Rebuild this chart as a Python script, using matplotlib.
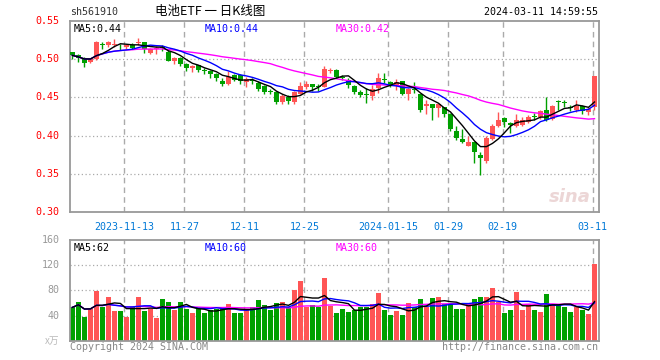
import numpy as np
import pandas as pd
import matplotlib
matplotlib.use('Agg')
import matplotlib.pyplot as plt

# daily candles, 2023-10-31 .. 2024-03-11
opens = [0.509, 0.506, 0.502, 0.496, 0.500, 0.520, 0.518, 0.519, 0.519, 0.516,
         0.519, 0.521, 0.522, 0.508, 0.513, 0.516, 0.510, 0.498, 0.502, 0.494,
         0.488, 0.492, 0.4855, 0.485, 0.481, 0.472, 0.467, 0.479, 0.479, 0.470,
         0.4725, 0.469, 0.465, 0.4575, 0.457, 0.444, 0.451, 0.444, 0.455, 0.464,
         0.467, 0.4645, 0.464, 0.4845, 0.486, 0.4765, 0.473, 0.465, 0.457, 0.4535,
         0.452, 0.462, 0.4735, 0.470, 0.466, 0.471, 0.455, 0.4605, 0.454, 0.439,
         0.441, 0.436, 0.437, 0.428, 0.406, 0.396, 0.387, 0.391, 0.375, 0.367,
         0.396, 0.413, 0.423, 0.417, 0.413, 0.414, 0.418, 0.425, 0.424, 0.434,
         0.422, 0.4445, 0.4435, 0.4365, 0.433, 0.439, 0.431, 0.438]
highs = [0.510, 0.507, 0.503, 0.501, 0.524, 0.522, 0.524, 0.526, 0.520, 0.520,
         0.521, 0.528, 0.523, 0.515, 0.517, 0.519, 0.512, 0.503, 0.503, 0.495,
         0.493, 0.493, 0.488, 0.486, 0.482, 0.476, 0.485, 0.481, 0.480, 0.477,
         0.476, 0.471, 0.466, 0.461, 0.458, 0.454, 0.453, 0.459, 0.470, 0.471,
         0.468, 0.467, 0.491, 0.488, 0.487, 0.479, 0.475, 0.466, 0.460, 0.462,
         0.466, 0.482, 0.482, 0.471, 0.474, 0.472, 0.462, 0.470, 0.455, 0.446,
         0.442, 0.442, 0.438, 0.429, 0.413, 0.409, 0.400, 0.392, 0.378, 0.399,
         0.415, 0.431, 0.425, 0.418, 0.428, 0.424, 0.427, 0.430, 0.434, 0.450,
         0.440, 0.446, 0.447, 0.440, 0.447, 0.440, 0.437, 0.478]
lows = [0.500, 0.496, 0.490, 0.495, 0.499, 0.513, 0.516, 0.516, 0.512, 0.513,
        0.513, 0.519, 0.508, 0.507, 0.507, 0.511, 0.497, 0.494, 0.491, 0.484,
        0.483, 0.483, 0.481, 0.476, 0.472, 0.465, 0.466, 0.471, 0.468, 0.464,
        0.468, 0.459, 0.455, 0.454, 0.442, 0.442, 0.442, 0.441, 0.454, 0.461,
        0.459, 0.459, 0.463, 0.482, 0.475, 0.473, 0.462, 0.455, 0.450, 0.443,
        0.446, 0.456, 0.469, 0.464, 0.460, 0.453, 0.446, 0.456, 0.431, 0.428,
        0.420, 0.424, 0.424, 0.406, 0.394, 0.390, 0.386, 0.364, 0.349, 0.364,
        0.394, 0.411, 0.411, 0.403, 0.411, 0.412, 0.416, 0.420, 0.422, 0.419,
        0.420, 0.434, 0.437, 0.432, 0.431, 0.428, 0.427, 0.434]
closes = [0.505, 0.501, 0.495, 0.500, 0.522, 0.519, 0.522, 0.520, 0.518, 0.519,
          0.515, 0.522, 0.514, 0.513, 0.515, 0.515, 0.498, 0.502, 0.494, 0.488,
          0.491, 0.486, 0.485, 0.481, 0.475, 0.468, 0.477, 0.473, 0.471, 0.474,
          0.472, 0.461, 0.457, 0.457, 0.444, 0.452, 0.445, 0.457, 0.465, 0.467,
          0.463, 0.464, 0.487, 0.485, 0.477, 0.476, 0.466, 0.457, 0.453, 0.453,
          0.461, 0.476, 0.473, 0.466, 0.470, 0.455, 0.461, 0.460, 0.433, 0.442,
          0.436, 0.441, 0.428, 0.408, 0.397, 0.391, 0.391, 0.378, 0.371, 0.397,
          0.412, 0.421, 0.418, 0.414, 0.420, 0.420, 0.425, 0.424, 0.432, 0.420,
          0.439, 0.444, 0.443, 0.436, 0.439, 0.432, 0.435, 0.478]
volumes = [53, 61, 37, 51, 79, 54, 69, 47, 47, 38, 54, 69, 47, 51, 36, 67, 61, 48,
           62, 50, 44, 50, 44, 48, 50, 54, 58, 44, 44, 48, 54, 64, 56, 49, 60, 62,
           54, 80, 95, 54, 56, 54, 100, 55, 44, 50, 45, 49, 53, 53, 58, 76, 48, 41,
           47, 41, 60, 54, 67, 54, 68, 70, 59, 59, 50, 50, 59, 66, 70, 70, 83, 61,
           44, 48, 77, 48, 59, 48, 45, 74, 59, 59, 54, 45, 54, 48, 42, 122]

tick_idx = [9, 19, 29, 39, 53, 63, 72, 87]
tick_labels = ['2023-11-13', '11-27', '12-11', '12-25', '2024-01-15', '01-29', '02-19', '03-11']
price_ticks = [0.30, 0.35, 0.40, 0.45, 0.50, 0.55]
vol_ticks = [40, 80, 120, 160]

RED = '#ff5555'
GREEN = '#00a000'
GRID = '#aaaaaa'
MONO = 'DejaVu Sans Mono'

df = pd.DataFrame({'o': opens, 'h': highs, 'l': lows, 'c': closes, 'v': volumes})
x = np.arange(len(df))
up = df['c'] >= df['o']
cols = [RED if u else GREEN for u in up]

fig = plt.figure(figsize=(6.6, 3.6), dpi=100)
ax = fig.add_axes([70 / 660, 1 - 212 / 360, 529 / 660, 191 / 360])
axv = fig.add_axes([70 / 660, 1 - 340.7 / 360, 529 / 660, 100.7 / 360])

for a in (ax, axv):
    a.set_xlim(-0.4, 87.75)
    for s in a.spines.values():
        s.set_color('#999999')
        s.set_linewidth(1.3)
    a.set_xticks([])
    a.set_yticks([])
    for t in tick_idx:
        a.axvline(t - 0.33, color=GRID, lw=1, ls=(0, (4, 3)), zorder=0)

# price panel
ax.set_ylim(0.30, 0.55)
for p in price_ticks[1:-1]:
    ax.axhline(p, color=GRID, lw=0.9, ls=(0, (1, 2)), zorder=0)
body = (df['c'] - df['o']).abs().clip(lower=0.0011)
bottom = df[['o', 'c']].min(axis=1)
ax.vlines(x, df['l'], df['h'], colors=cols, lw=1, zorder=2)
ax.bar(x, body, bottom=bottom, width=0.8, color=cols, zorder=3)

ma5 = df['c'].rolling(5, min_periods=1).mean()
ma10 = df['c'].rolling(10, min_periods=1).mean()
ma30 = df['c'].rolling(30, min_periods=1).mean()
ax.plot(x, ma30, color='#ff00ff', lw=1, zorder=4)
ax.plot(x, ma10, color='#0000ff', lw=1, zorder=4)
ax.plot(x, ma5, color='black', lw=1, zorder=4)

for p in price_ticks:
    ax.text(-0.02, p, f'{p:.2f}', transform=ax.get_yaxis_transform(), ha='right',
            va='center', color='red', fontsize=7.2, family=MONO)
for t, lab in zip(tick_idx, tick_labels):
    ax.text(t - 0.33, -0.078, lab, transform=ax.get_xaxis_transform(), ha='center',
            va='center', color='#0078d7', fontsize=7.2, family=MONO)

ax.text(0.006, 0.985, f'MA5:{ma5.iloc[-1]:.2f}', transform=ax.transAxes, va='top',
        color='black', fontsize=7.2, family=MONO)
ax.text(0.255, 0.985, f'MA10:{ma10.iloc[-1]:.2f}', transform=ax.transAxes, va='top',
        color='#0000ff', fontsize=7.2, family=MONO)
ax.text(0.502, 0.985, f'MA30:{ma30.iloc[-1]:.2f}', transform=ax.transAxes, va='top',
        color='#ff00ff', fontsize=7.2, family=MONO)
ax.text(0.985, 0.03, 'sina', transform=ax.transAxes, ha='right', va='bottom',
        color='#ecd6d6', fontsize=13, fontweight='bold', style='italic', zorder=1)

# volume panel
axv.set_ylim(0, 160)
for v in vol_ticks[:-1]:
    axv.axhline(v, color=GRID, lw=0.9, ls=(0, (1, 2)), zorder=0)
axv.bar(x, df['v'], width=0.8, color=cols, zorder=2)
vma5 = df['v'].rolling(5, min_periods=1).mean()
vma10 = df['v'].rolling(10, min_periods=1).mean()
vma30 = df['v'].rolling(30, min_periods=1).mean()
axv.plot(x, vma30, color='#ff00ff', lw=1, zorder=4)
axv.plot(x, vma10, color='#0000ff', lw=1, zorder=4)
axv.plot(x, vma5, color='black', lw=1, zorder=4)
for v in vol_ticks:
    axv.text(-0.02, v, str(v), transform=axv.get_yaxis_transform(), ha='right',
             va='center', color='#999999', fontsize=7.2, family=MONO)
axv.text(-0.02, 0, 'x万', transform=axv.get_yaxis_transform(), ha='right', va='center',
         color='#bbbbbb', fontsize=7, family=['Noto Sans CJK SC', 'DejaVu Sans'])
axv.text(0.006, 0.975, f'MA5:{vma5.iloc[-1]:.0f}', transform=axv.transAxes, va='top',
         color='black', fontsize=7.2, family=MONO)
axv.text(0.255, 0.975, f'MA10:{vma10.iloc[-1]:.0f}', transform=axv.transAxes, va='top',
         color='#0000ff', fontsize=7.2, family=MONO)
axv.text(0.502, 0.975, f'MA30:{vma30.iloc[-1]:.0f}', transform=axv.transAxes, va='top',
         color='#ff00ff', fontsize=7.2, family=MONO)

# header and footer
fig.text(70 / 660, 1 - 12 / 360, 'sh561910', ha='left', va='center', fontsize=7.2,
         family=MONO, color='#333333')
fig.text(210 / 660, 1 - 12 / 360, '电池ETF 一 日K线图', ha='center', va='center',
         fontsize=9, family=['Noto Sans CJK SC', 'DejaVu Sans'], color='black')
fig.text(598 / 660, 1 - 12 / 360, '2024-03-11 14:59:55', ha='right', va='center',
         fontsize=7.2, family=MONO, color='black')
fig.text(70 / 660, 1 - 347 / 360, 'Copyright 2024 SINA.COM', ha='left', va='center',
         fontsize=7.2, family=MONO, color='#888888')
fig.text(598 / 660, 1 - 347 / 360, 'http://finance.sina.com.cn', ha='right', va='center',
         fontsize=7.2, family=MONO, color='#888888')

fig.savefig('out.png', dpi=100)
